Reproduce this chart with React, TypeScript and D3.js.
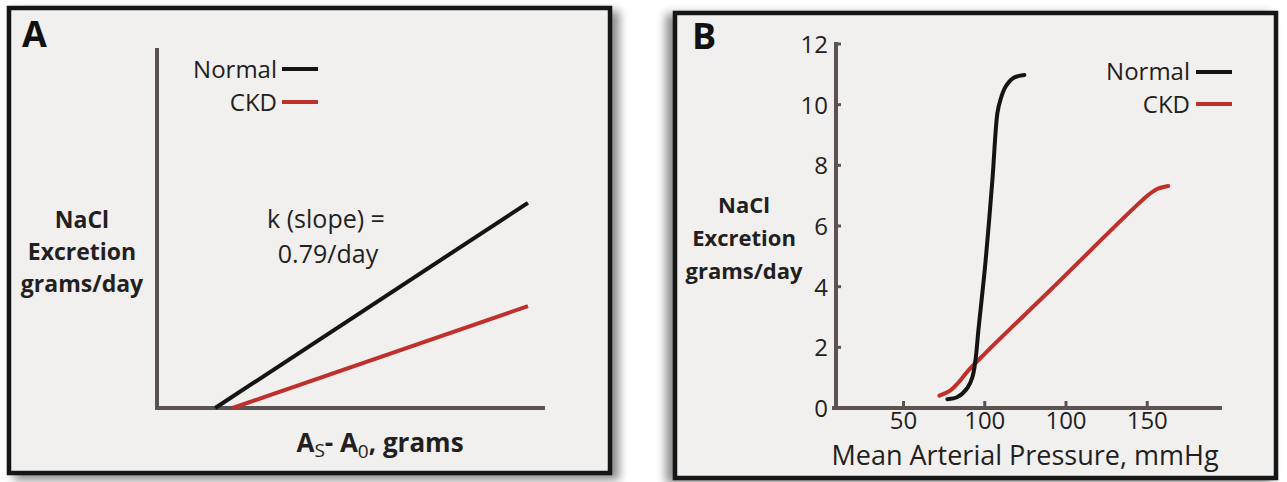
import React, { useEffect, useRef } from 'react';
import * as d3 from 'd3';

// panel A: schematic lines, arbitrary units
const NORMAL_A_X = [1.5, 9.56];
const NORMAL_A_Y = [0, 5.7];
const CKD_A_X = [1.95, 9.56];
const CKD_A_Y = [0, 2.83];

// panel B: excretion vs mean arterial pressure
const NORMAL_B_X = [77.0, 83.2, 89.3, 92.4, 94.3, 96.1, 100.4, 104.7, 107.8, 109.6, 112.7, 117.6, 124.4];
const NORMAL_B_Y = [0.29, 0.36, 0.66, 1.02, 1.58, 2.57, 4.78, 7.52, 9.73, 10.15, 10.58, 10.88, 10.98];
const CKD_B_X = [72.1, 78.9, 83.8, 89.3, 100.4, 140.4, 200.6, 206.1, 212.9];
const CKD_B_Y = [0.41, 0.58, 0.84, 1.2, 1.81, 3.89, 7.02, 7.22, 7.32];

const X_TICKS_B = [50, 100, 150, 200];
const X_TICK_LABELS_B = ['50', '100', '100', '150'];
const Y_TICKS_B = [0, 2, 4, 6, 8, 10, 12];

const SERIES = ['Normal', 'CKD'];
const SERIES_COLORS = ['#141414', '#c0302a'];
const Y_LABEL = ['NaCl', 'Excretion', 'grams/day'];

const FONT = '"Open Sans", "Noto Sans", sans-serif';
const INK = '#231f20';
const AXIS = '#5b5351';
const PANEL_BG = '#f1f0ef';

export default function App() {
  const ref = useRef<SVGSVGElement>(null);

  useEffect(() => {
    document.body.style.margin = '0';
    const svg = d3.select(ref.current);
    svg.selectAll('*').remove();

    const defs = svg.append('defs');
    const shadow = (id: string, dx: number, dy: number) => {
      defs
        .append('filter')
        .attr('id', id)
        .attr('x', '-10%')
        .attr('y', '-10%')
        .attr('width', '120%')
        .attr('height', '120%')
        .append('feDropShadow')
        .attr('dx', dx)
        .attr('dy', dy)
        .attr('stdDeviation', 5)
        .attr('flood-color', '#000')
        .attr('flood-opacity', 0.45);
    };
    shadow('shA', 7, 5);
    shadow('shB', -7, 3);

    const line = (x: d3.ScaleLinear<number, number>, y: d3.ScaleLinear<number, number>, curve: d3.CurveFactory) =>
      d3
        .line<[number, number]>()
        .x((d) => x(d[0]))
        .y((d) => y(d[1]))
        .curve(curve);

    const pairs = (xs: number[], ys: number[]) => xs.map((v, i) => [v, ys[i]] as [number, number]);

    // ---------- Panel A ----------
    const a = svg.append('g');
    a.append('rect')
      .attr('x', 9)
      .attr('y', 8)
      .attr('width', 601)
      .attr('height', 465)
      .attr('fill', PANEL_BG)
      .attr('stroke', '#161616')
      .attr('stroke-width', 4.5)
      .attr('filter', 'url(#shA)');

    a.append('text')
      .attr('x', 22)
      .attr('y', 47)
      .attr('font-family', FONT)
      .attr('font-weight', 700)
      .attr('font-size', 36)
      .attr('fill', '#111')
      .text('A');

    const xA = d3.scaleLinear().domain([0, 10]).range([157, 545]);
    const yA = d3.scaleLinear().domain([0, 10]).range([408, 48]);

    a.append('path')
      .attr('d', `M${xA(0)},${yA(10)}V${yA(0)}H${xA(10)}`)
      .attr('fill', 'none')
      .attr('stroke', AXIS)
      .attr('stroke-width', 4);

    const lineA = line(xA, yA, d3.curveLinear);
    a.append('path')
      .attr('d', lineA(pairs(NORMAL_A_X, NORMAL_A_Y)))
      .attr('fill', 'none')
      .attr('stroke', SERIES_COLORS[0])
      .attr('stroke-width', 4);
    a.append('path')
      .attr('d', lineA(pairs(CKD_A_X, CKD_A_Y)))
      .attr('fill', 'none')
      .attr('stroke', SERIES_COLORS[1])
      .attr('stroke-width', 4);

    // legend A
    SERIES.forEach((s, i) => {
      a.append('text')
        .attr('x', 277)
        .attr('y', 78 + i * 33)
        .attr('text-anchor', 'end')
        .attr('font-family', FONT)
        .attr('font-size', 24)
        .attr('fill', INK)
        .text(s);
      a.append('line')
        .attr('x1', 282)
        .attr('x2', 318)
        .attr('y1', 69 + i * 33)
        .attr('y2', 69 + i * 33)
        .attr('stroke', SERIES_COLORS[i])
        .attr('stroke-width', 4);
    });

    a.append('text')
      .attr('x', 326)
      .attr('y', 228)
      .attr('text-anchor', 'middle')
      .attr('font-family', FONT)
      .attr('font-size', 25)
      .attr('fill', INK)
      .text('k (slope) =');
    a.append('text')
      .attr('x', 328)
      .attr('y', 263)
      .attr('text-anchor', 'middle')
      .attr('font-family', FONT)
      .attr('font-size', 25)
      .attr('fill', INK)
      .text('0.79/day');

    Y_LABEL.forEach((t, i) => {
      a.append('text')
        .attr('x', 82)
        .attr('y', 228 + i * 32)
        .attr('text-anchor', 'middle')
        .attr('font-family', FONT)
        .attr('font-weight', 700)
        .attr('font-size', 23)
        .attr('fill', INK)
        .text(t);
    });

    const xl = a
      .append('text')
      .attr('x', 380)
      .attr('y', 452)
      .attr('text-anchor', 'middle')
      .attr('font-family', FONT)
      .attr('font-weight', 700)
      .attr('font-size', 26)
      .attr('fill', INK);
    xl.append('tspan').text('A');
    xl.append('tspan').attr('font-weight', 400).attr('font-size', 19).attr('dy', 5).text('S');
    xl.append('tspan').attr('dy', -5).text('- A');
    xl.append('tspan').attr('font-weight', 400).attr('font-size', 19).attr('dy', 6).text('0');
    xl.append('tspan').attr('dy', -6).text(', grams');

    // ---------- Panel B ----------
    const b = svg.append('g');
    b.append('rect')
      .attr('x', 675)
      .attr('y', 13)
      .attr('width', 601)
      .attr('height', 465)
      .attr('fill', PANEL_BG)
      .attr('stroke', '#161616')
      .attr('stroke-width', 4.5)
      .attr('filter', 'url(#shB)');

    b.append('text')
      .attr('x', 692)
      .attr('y', 49)
      .attr('font-family', FONT)
      .attr('font-weight', 700)
      .attr('font-size', 36)
      .attr('fill', '#111')
      .text('B');

    const xB = d3.scaleLinear().domain([6, 246]).range([832, 1222]);
    const yB = d3.scaleLinear().domain([0, 12]).range([408, 44]);

    b.append('line')
      .attr('x1', xB(6) + 4)
      .attr('x2', xB(6) + 4)
      .attr('y1', yB(12) - 2)
      .attr('y2', yB(0))
      .attr('stroke', AXIS)
      .attr('stroke-width', 4);
    b.append('line')
      .attr('x1', xB(6))
      .attr('x2', xB(246))
      .attr('y1', yB(0))
      .attr('y2', yB(0))
      .attr('stroke', AXIS)
      .attr('stroke-width', 4);

    Y_TICKS_B.forEach((v) => {
      b.append('line')
        .attr('x1', xB(6) + 4)
        .attr('x2', xB(6) + 9)
        .attr('y1', yB(v))
        .attr('y2', yB(v))
        .attr('stroke', AXIS)
        .attr('stroke-width', 3);
      b.append('text')
        .attr('x', 828)
        .attr('y', yB(v) + 9)
        .attr('text-anchor', 'end')
        .attr('font-family', FONT)
        .attr('font-size', 24)
        .attr('fill', INK)
        .text(String(v));
    });

    X_TICKS_B.forEach((v, i) => {
      b.append('line')
        .attr('x1', xB(v))
        .attr('x2', xB(v))
        .attr('y1', yB(0))
        .attr('y2', yB(0) - 7)
        .attr('stroke', AXIS)
        .attr('stroke-width', 3);
      b.append('text')
        .attr('x', xB(v))
        .attr('y', 429)
        .attr('text-anchor', 'middle')
        .attr('font-family', FONT)
        .attr('font-size', 24)
        .attr('fill', INK)
        .text(X_TICK_LABELS_B[i]);
    });

    b.append('text')
      .attr('x', 1025)
      .attr('y', 465)
      .attr('text-anchor', 'middle')
      .attr('font-family', FONT)
      .attr('font-size', 27)
      .attr('fill', INK)
      .text('Mean Arterial Pressure, mmHg');

    Y_LABEL.forEach((t, i) => {
      b.append('text')
        .attr('x', 744)
        .attr('y', 213 + i * 33)
        .attr('text-anchor', 'middle')
        .attr('font-family', FONT)
        .attr('font-weight', 700)
        .attr('font-size', 22)
        .attr('fill', INK)
        .text(t);
    });

    const lineB = line(xB, yB, d3.curveCatmullRom.alpha(0.5));
    b.append('path')
      .attr('d', lineB(pairs(CKD_B_X, CKD_B_Y)))
      .attr('fill', 'none')
      .attr('stroke', SERIES_COLORS[1])
      .attr('stroke-width', 4)
      .attr('stroke-linecap', 'round');
    b.append('path')
      .attr('d', lineB(pairs(NORMAL_B_X, NORMAL_B_Y)))
      .attr('fill', 'none')
      .attr('stroke', SERIES_COLORS[0])
      .attr('stroke-width', 4)
      .attr('stroke-linecap', 'round');

    // legend B
    SERIES.forEach((s, i) => {
      b.append('text')
        .attr('x', 1190)
        .attr('y', 80 + i * 33)
        .attr('text-anchor', 'end')
        .attr('font-family', FONT)
        .attr('font-size', 24)
        .attr('fill', INK)
        .text(s);
      b.append('line')
        .attr('x1', 1196)
        .attr('x2', 1232)
        .attr('y1', 72 + i * 32)
        .attr('y2', 72 + i * 32)
        .attr('stroke', SERIES_COLORS[i])
        .attr('stroke-width', 4);
    });
  }, []);

  return <svg ref={ref} width={1287} height={482} style={{ display: 'block' }} />;
}
